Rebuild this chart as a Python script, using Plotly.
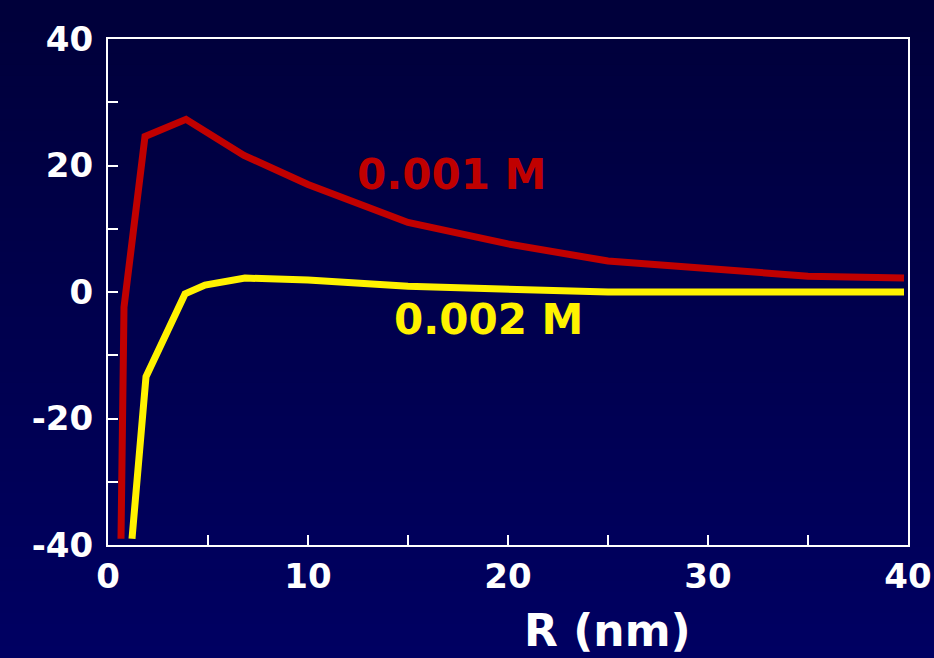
import plotly.graph_objects as go

# Data
r_001 = [0.65, 0.8, 1.85, 3.9, 6.8, 10, 15, 20, 25, 30, 35, 39.8]
v_001 = [-39, -2.4, 24.6, 27.3, 21.6, 17.0, 11.0, 7.6, 4.9, 3.6, 2.5, 2.2]

r_002 = [1.2, 1.9, 3.85, 4.85, 6.85, 10, 15, 20, 25, 30, 35, 39.8]
v_002 = [-39, -13.4, -0.3, 1.1, 2.2, 1.9, 0.9, 0.5, 0.0, 0.0, 0.0, 0.0]

y_tickvals = [-40, -30, -20, -10, 0, 10, 20, 30, 40]
y_ticktext = ["-40", "", "-20", "", "0", "", "20", "", "40"]
x_tickvals = [0, 5, 10, 15, 20, 25, 30, 35, 40]
x_ticktext = ["0", "", "10", "", "20", "", "30", "", "40"]

label_001 = "0.001 M"
label_002 = "0.002 M"
x_title = "R (nm)"

RED = "#C00000"
YEL = "#FFF200"
FONT = "DejaVu Sans"

fig = go.Figure()
fig.add_trace(go.Scatter(x=r_001, y=v_001, mode="lines",
                         line=dict(color=RED, width=7), showlegend=False))
fig.add_trace(go.Scatter(x=r_002, y=v_002, mode="lines",
                         line=dict(color=YEL, width=7), showlegend=False))

# vertical gradient background
W, H = 934, 658
ml, mr, mt, mb = 108, 26, 39, 113
ph = H - mt - mb
pw = W - ml - mr
n = 60
shapes = []
for i in range(n):
    f = i / (n - 1)
    b = int(round(58 + (98 - 58) * f))
    ytop = 1 + mt / ph - (H / ph) * i / n
    ybot = 1 + mt / ph - (H / ph) * (i + 1) / n
    shapes.append(dict(type="rect", xref="paper", yref="paper",
                       x0=-ml / pw - 0.01, x1=1 + mr / pw + 0.01,
                       y0=ybot - 0.002, y1=ytop + 0.002,
                       fillcolor=f"rgb(0,0,{b})", line=dict(width=0),
                       layer="below"))

fig.update_layout(
    width=W, height=H,
    margin=dict(l=ml, r=mr, t=mt, b=mb, autoexpand=False),
    paper_bgcolor="rgb(0,0,78)",
    plot_bgcolor="rgba(0,0,0,0)",
    shapes=shapes,
    font=dict(family=FONT, color="white"),
    xaxis=dict(range=[0, 40], tickvals=x_tickvals, ticktext=x_ticktext,
               automargin=False,
               showgrid=False, zeroline=False, showline=True, mirror=True,
               linecolor="white", linewidth=2, ticks="inside", ticklen=10,
               tickwidth=2, tickcolor="white",
               tickfont=dict(family=FONT, size=34, color="white", weight="bold")),
    yaxis=dict(range=[-40, 40], tickvals=y_tickvals, ticktext=y_ticktext,
               automargin=False,
               showgrid=False, zeroline=False, showline=True, mirror=True,
               linecolor="white", linewidth=2, ticks="inside", ticklen=10,
               tickwidth=2, tickcolor="white", ticklabelstandoff=6,
               tickfont=dict(family=FONT, size=34, color="white", weight="bold")),
    annotations=[
        dict(x=17.15, y=18.5, xref="x", yref="y", text=label_001, showarrow=False,
             font=dict(family=FONT, size=42, color=RED, weight="bold")),
        dict(x=19.0, y=-4.3, xref="x", yref="y", text=label_002, showarrow=False,
             font=dict(family=FONT, size=42, color=YEL, weight="bold")),
        dict(x=(607 - ml) / pw, y=(H - mb - 630) / ph, xref="paper", yref="paper",
             text=x_title, showarrow=False, xanchor="center", yanchor="middle",
             font=dict(family=FONT, size=44, color="white", weight="bold")),
    ],
)

fig.write_html(
    "out.html",
    config={"displayModeBar": False},
    post_script="document.body.style.margin='0';document.body.style.padding='0';"
                "document.body.style.overflow='hidden';"
                "document.body.style.background='rgb(0,0,78)';",
)
